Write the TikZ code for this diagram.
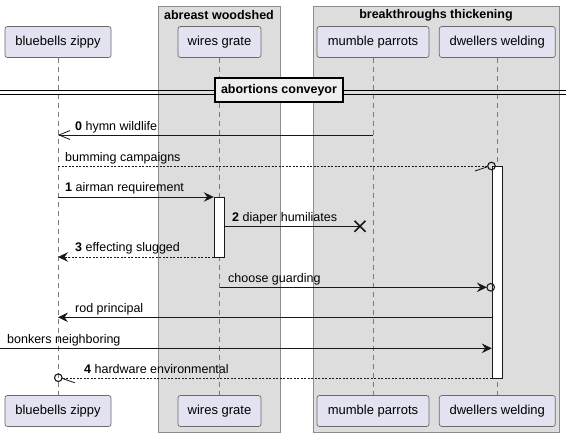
\documentclass[tikz,border=0pt]{standalone}
\usepackage{fontspec}
\setmainfont{Liberation Sans}
\usetikzlibrary{arrows.meta,calc,backgrounds}
\definecolor{partfill}{HTML}{E2E2F0}
\definecolor{partline}{HTML}{6A6A6A}
\definecolor{grpfill}{HTML}{DDDDDD}
\definecolor{grpline}{HTML}{8C8C8C}
\definecolor{divfill}{HTML}{EEEEEE}
\definecolor{lifecol}{HTML}{7A7A7A}
\definecolor{ink}{HTML}{181818}
\begin{document}
\begin{tikzpicture}[x=1pt,y=-1pt,
  part/.style={draw=partline, fill=partfill, rounded corners=2.5pt, line width=0.7pt,
    minimum height=31pt, inner sep=0pt, font=\fontsize{13}{15}\selectfont},
  grpbox/.style={draw=grpline, fill=grpfill, line width=0.9pt},
  grptitle/.style={font=\bfseries\fontsize{12.5}{14}\selectfont, inner sep=0pt},
  lifel/.style={draw=lifecol, dash pattern=on 5pt off 4pt, line width=0.7pt},
  actbar/.style={draw=ink, fill=white, line width=1pt, minimum width=10pt, inner sep=0pt},
  msg/.style={draw=ink, line width=0.9pt},
  dotmsg/.style={draw=ink, line width=0.8pt, dash pattern=on 2pt off 1.5pt},
  tip/.style={-{Stealth[length=10pt,width=9.5pt,inset=3.5pt]}},
  opentip/.style={-{Straight Barb[length=11pt,width=9pt,line width=0.8pt]}},
  lbl/.style={anchor=base west, inner sep=0pt, font=\fontsize{12.5}{14}\selectfont},
  divbox/.style={draw=black, fill=divfill, line width=1.6pt, inner xsep=6pt,
    minimum height=24pt, font=\bfseries\fontsize{12.5}{14}\selectfont},
  endcirc/.style={draw=ink, line width=1.1pt, fill=none},
]
\useasboundingbox (0,0) rectangle (566,437);

% participants
\node[part, minimum width=106pt] (bzt) at (58,42) {bluebells zippy};
\node[part, minimum width=83pt]  (wgt) at (219.5,42) {wires grate};
\node[part, minimum width=112pt] (mpt) at (373,42) {mumble parrots};
\node[part, minimum width=116pt] (dwt) at (497.3,42) {dwellers welding};
\node[part, minimum width=106pt] (bzb) at (58,411) {bluebells zippy};
\node[part, minimum width=83pt]  (wgb) at (219.5,411) {wires grate};
\node[part, minimum width=112pt] (mpb) at (373,411) {mumble parrots};
\node[part, minimum width=116pt] (dwb) at (497.3,411) {dwellers welding};

\begin{pgfonlayer}{background}
  \fill[white] (0,0) rectangle (566,437);
  \draw[grpbox] (158,6) rectangle (280,432);
  \draw[grpbox] (313.3,6) rectangle (559.3,432);
  \draw[lifel] (bzt.south) -- (bzb.north);
  \draw[lifel] (wgt.south) -- (wgb.north);
  \draw[lifel] (mpt.south) -- (mpb.north);
  \draw[lifel] (dwt.south) -- (dwb.north);
\end{pgfonlayer}
\node[grptitle] (g1) at (219,15) {abreast woodshed};
\node[grptitle] (g2) at (436,15) {breakthroughs thickening};

% divider
\coordinate (dl1) at (0,90);  \coordinate (dr1) at (566,90);
\coordinate (dl2) at (0,94);  \coordinate (dr2) at (566,94);
\draw[black, line width=0.9pt] (dl1) -- (dr1);
\draw[black, line width=0.9pt] (dl2) -- (dr2);
\node[divbox] (div) at (279,90) {abortions conveyor};

% activation bars
\node[actbar, minimum height=60pt] (wga) at (219.3,227) {};
\node[actbar, minimum height=212pt] (dwa) at (497.3,272) {};

% 0 hymn wildlife
\draw[msg, opentip] (mpt |- 0,135) -- (bzt |- 0,135);
\node[lbl] (l0) at (75,130) {\textbf{0} hymn wildlife};

% bumming campaigns
\coordinate (bcend) at (491.5,166);
\draw[dotmsg] (bzt |- 0,166) -- ($(bcend)+(-3.8,0)$);
\draw[endcirc] (bcend) circle (3.8pt);
\draw[ink, line width=0.8pt] ($(bcend)+(-4,0.8)$) -- ($(bcend)+(-16.5,5)$);
\node[lbl] (l1) at (65,161) {bumming campaigns};

% 1 airman requirement
\draw[msg, tip] (bzt |- 0,197) -- (wga.west |- 0,197);
\node[lbl] (l2) at (65,191.5) {\textbf{1} airman requirement};

% 2 diaper humiliates
\coordinate (xm) at (360,226.3);
\draw[msg] (wga.east |- 0,226.3) -- (xm);
\draw[ink, line width=1.6pt] ($(xm)+(-5.5,-5.5)$) -- ($(xm)+(5.5,5.5)$)
  ($(xm)+(-5.5,5.5)$) -- ($(xm)+(5.5,-5.5)$);
\node[lbl] (l3) at (232,221) {\textbf{2} diaper humiliates};

% 3 effecting slugged
\draw[dotmsg, tip] (wga.west |- 0,257) -- (bzt |- 0,257);
\node[lbl] (l4) at (75,251.5) {\textbf{3} effecting slugged};

% choose guarding
\coordinate (cgend) at (490.7,287.3);
\draw[msg, tip] (wgt |- 0,287.3) -- ($(cgend)+(-3.8,0)$);
\draw[endcirc] (cgend) circle (3.8pt);
\node[lbl] (l5) at (228,282.5) {choose guarding};

% rod principal
\draw[msg, tip] (dwa.west |- 0,317.3) -- (bzt |- 0,317.3);
\node[lbl] (l6) at (75,312.5) {rod principal};

% bonkers neighboring
\coordinate (bnstart) at (0,348.3);
\draw[msg, tip] (bnstart) -- (dwa.west |- 0,348.3);
\node[lbl] (l7) at (7,343.5) {bonkers neighboring};

% 4 hardware environmental
\coordinate (hwend) at (58.3,377.7);
\draw[dotmsg] (dwa.west |- 0,378.3) -- ($(hwend)+(3.8,0.6)$);
\draw[endcirc] (hwend) circle (3.8pt);
\draw[ink, line width=0.8pt] ($(hwend)+(4,0.8)$) -- ($(hwend)+(16.5,5)$);
\node[lbl] (l8) at (84,373) {\textbf{4} hardware environmental};
\end{tikzpicture}
\end{document}
